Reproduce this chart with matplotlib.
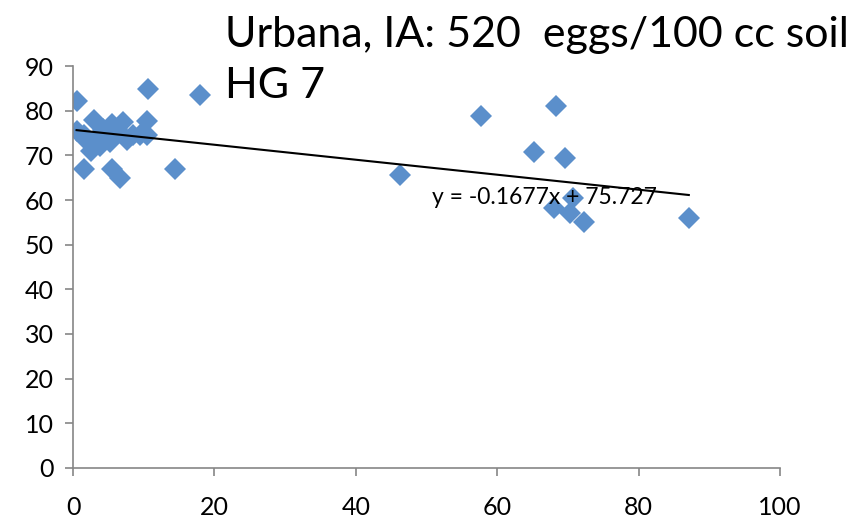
import matplotlib.pyplot as plt
import numpy as np

plt.rcParams['font.family'] = ['Lato', 'DejaVu Sans']

# soil egg counts (x) vs. response (y), HG 7 at Urbana
x_vals = [0.6, 10.6, 18.0, 14.4, 1.5, 5.5, 6.6, 0.5, 2.9, 7.0, 10.5, 10.5, 8.5,
          5.5, 4.3, 6.2, 2.6, 3.8, 5.2, 7.6, 1.9, 1.5, 3.4, 4.8, 6.2, 9.5,
          46.3, 57.7, 68.3, 65.2, 69.6, 70.7, 68.0, 70.3, 72.3, 87.1]
y_vals = [82.2, 84.8, 83.5, 67.0, 67.0, 67.0, 65.0, 75.5, 78.0, 77.5, 77.8, 74.5, 74.5,
          77.0, 76.0, 76.0, 71.0, 72.0, 73.0, 73.5, 73.5, 74.5, 74.2, 74.9, 75.0, 74.5,
          65.5, 78.8, 81.0, 70.8, 69.3, 60.5, 58.3, 57.0, 55.0, 56.0]

slope = -0.1677
intercept = 75.727
trend_label = 'y = -0.1677x + 75.727'

x_ticks = [0, 20, 40, 60, 80, 100]
y_ticks = [0, 10, 20, 30, 40, 50, 60, 70, 80, 90]

fig = plt.figure(figsize=(8.62, 5.19), dpi=100)
ax = fig.add_axes([0.0847, 0.0983, 0.8202, 0.7745])

ax.plot(x_vals, y_vals, linestyle='none', marker='D', markersize=11.5,
        color='#5b8fcb', markeredgewidth=0)

xs = np.array([min(x_vals), max(x_vals)])
ax.plot(xs, slope * xs + intercept, color='black', linewidth=1.5)
ax.text(50.8, 60.5, trend_label, fontsize=16.5, ha='left', va='center')

ax.set_xlim(0, 100)
ax.set_ylim(0, 90)
ax.set_xticks(x_ticks)
ax.set_yticks(y_ticks)
for side in ('top', 'right'):
    ax.spines[side].set_visible(False)
for side in ('left', 'bottom'):
    ax.spines[side].set_color('#868686')
    ax.spines[side].set_linewidth(1.2)
ax.tick_params(axis='both', colors='#868686', length=6, width=1.2,
               labelsize=18, labelcolor='black')
ax.tick_params(axis='x', pad=14)
ax.tick_params(axis='y', pad=8)

fig.text(0.261, 0.932, 'Urbana, IA: 520  eggs/100 cc soil', fontsize=31,
         ha='left', va='center')
fig.text(0.261, 0.835, 'HG 7', fontsize=31, ha='left', va='center')

fig.savefig('out.png', dpi=100)
